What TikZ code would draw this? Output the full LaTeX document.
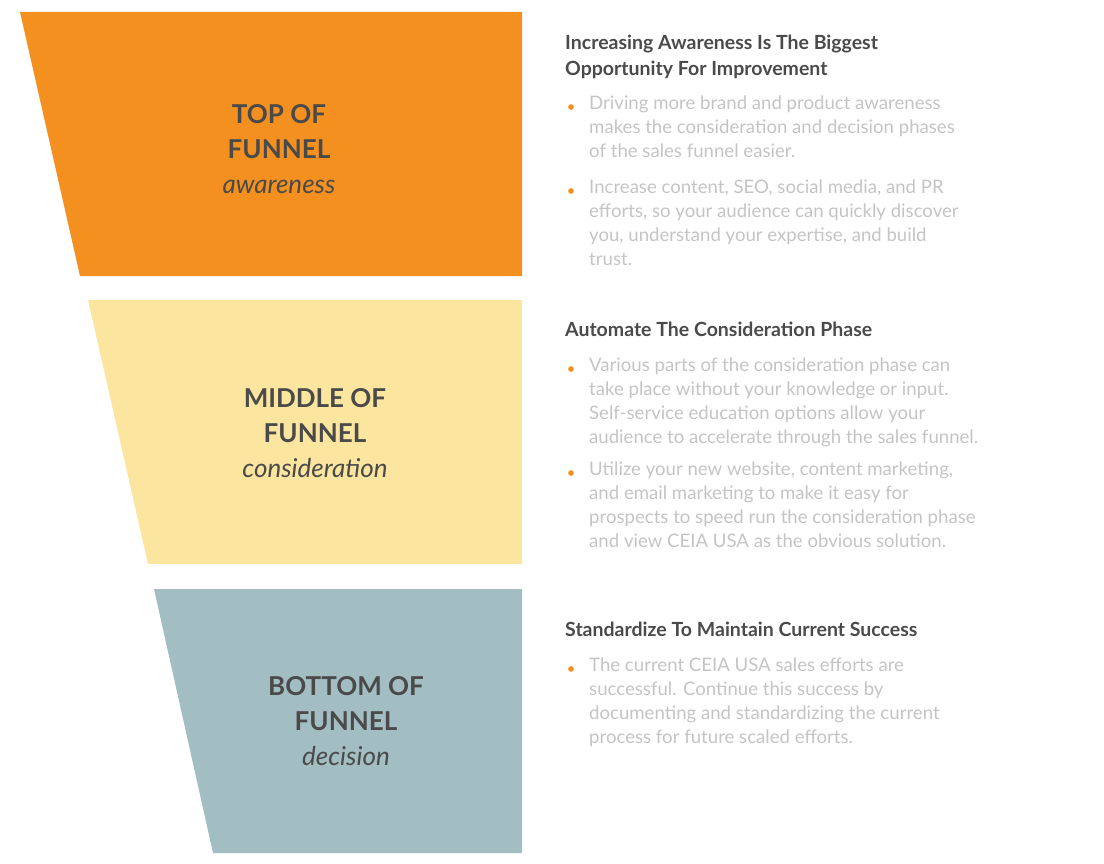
\documentclass[tikz,border=0pt]{standalone}
\usepackage{fontspec}
\setmainfont{Lato}
\definecolor{org}{HTML}{F39020}
\definecolor{yel}{HTML}{FCE59E}
\definecolor{blu}{HTML}{A3BEC3}
\definecolor{dk}{HTML}{4A4A4A}
\definecolor{lt}{HTML}{C4C4C4}
\begin{document}
\begin{tikzpicture}[x=1pt,y=-1pt,
  stage/.style={align=center,text=dk,font=\bfseries\fontsize{26}{35}\selectfont},
  head/.style={anchor=north west,align=left,text=dk,inner sep=0pt,font=\bfseries\fontsize{19.5}{26}\selectfont},
  body/.style={anchor=north west,align=left,text=lt,inner sep=0pt,font=\fontsize{18.6}{24}\selectfont},
  dot/.style={circle,fill=org,inner sep=2pt}]
\useasboundingbox (0,0) rectangle (1104,864);
\fill[org] (20,12) -- (522,12) -- (522,276) -- (80,276) -- cycle;
\fill[yel] (88,300) -- (522,300) -- (522,564) -- (148,564) -- cycle;
\fill[blu] (154,589) -- (522,589) -- (522,853) -- (213,853) -- cycle;
\node[stage] (s1) at (279,149) {TOP OF\\FUNNEL\\\mdseries\itshape awareness};
\node[stage] (s2) at (315,433) {MIDDLE OF\\FUNNEL\\\mdseries\itshape consideration};
\node[stage] (s3) at (346,721) {BOTTOM OF\\FUNNEL\\\mdseries\itshape decision};
\node[head] (h1) at (565,35) {Increasing Awareness Is The Biggest\\Opportunity For Improvement};
\node[body] (b1) at (589,96) {Driving more brand and product awareness\\makes the consideration and decision phases\\of the sales funnel easier.};
\node[body] (b2) at (589,180) {Increase content, SEO, social media, and PR\\efforts, so your audience can quickly discover\\you, understand your expertise, and build\\trust.};
\node[head] (h2) at (565,322) {Automate The Consideration Phase};
\node[body] (b3) at (589,358) {Various parts of the consideration phase can\\take place without your knowledge or input.\\Self-service education options allow your\\audience to accelerate through the sales funnel.};
\node[body] (b4) at (589,462) {Utilize your new website, content marketing,\\and email marketing to make it easy for\\prospects to speed run the consideration phase\\and view CEIA USA as the obvious solution.};
\node[head] (h3) at (565,622) {Standardize To Maintain Current Success};
\node[body] (b5) at (589,658) {The current CEIA USA sales efforts are\\successful. Continue this success by\\documenting and standardizing the current\\process for future scaled efforts.};
\foreach \b in {b1,b2,b3,b4,b5} \node[dot] at ([xshift=-18,yshift=-11]\b.north west) {};
\end{tikzpicture}
\end{document}
